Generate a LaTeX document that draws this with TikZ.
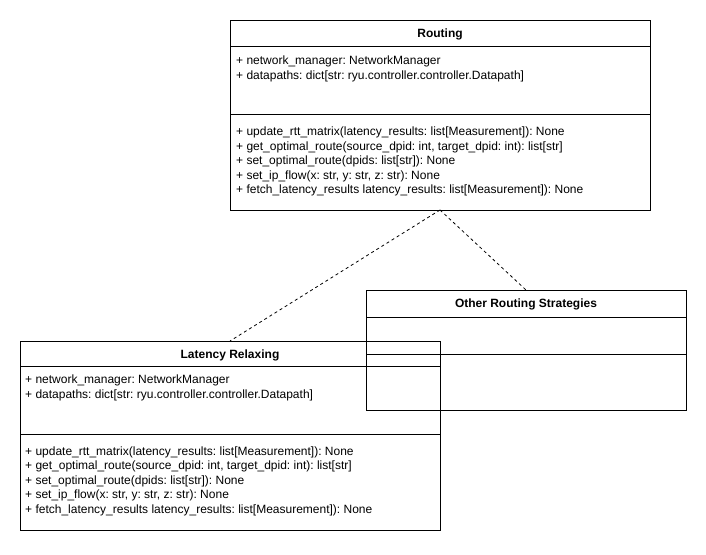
\documentclass[tikz,border=0pt]{standalone}
\usepackage{fontspec}
\setmainfont{Liberation Sans}
\begin{document}
\frenchspacing
\begin{tikzpicture}[x=1pt,y=-1pt,
  boxline/.style={draw=black, line width=1pt},
  classbox/.style={boxline, fill=none, inner sep=0pt, outer sep=0pt, anchor=north west},
  titletext/.style={font=\fontsize{12}{14}\selectfont\bfseries, inner sep=0pt, anchor=base},
  membertext/.style={font=\fontsize{12}{14}\selectfont, inner sep=0pt, anchor=base west},
  realizes/.style={draw=black, line width=0.8pt, dash pattern=on 3pt off 3pt}
]
\useasboundingbox (0,0) rectangle (706,554);
\fill[white] (0,0) rectangle (706,554);

% ---------- Routing ----------
\node[classbox, minimum width=420pt, minimum height=190pt] (routing) at (230,20) {};
\draw[boxline] (230,46.5) coordinate (rh1) -- (650,46.5) coordinate (rh2);
\draw[boxline] (230,114.5) coordinate (ra1) -- (650,114.5) coordinate (ra2);
\node[titletext] (routingtitle) at (440,37.5) {Routing};
\node[membertext] (ra-1) at (236,64.5) {+ network\_manager: NetworkManager};
\node[membertext] (ra-2) at (236,79) {+ datapaths: dict[str: ryu.controller.controller.Datapath]};
\node[membertext] (rm-1) at (236,135.5) {+ update\_rtt\_matrix(latency\_results: list[Measurement]): None};
\node[membertext] (rm-2) at (236,150) {+ get\_optimal\_route(source\_dpid: int, target\_dpid: int): list[str]};
\node[membertext] (rm-3) at (236,164.5) {+ set\_optimal\_route(dpids: list[str]): None};
\node[membertext] (rm-4) at (236,179) {+ set\_ip\_flow(x: str, y: str, z: str): None};
\node[membertext] (rm-5) at (236,193.5) {+ fetch\_latency\_results latency\_results: list[Measurement]): None};

% ---------- Other Routing Strategies ----------
\node[classbox, minimum width=320pt, minimum height=120pt] (other) at (366,290) {};
\draw[boxline] (366,317) coordinate (oh1) -- (686,317) coordinate (oh2);
\draw[boxline] (366,354) coordinate (oa1) -- (686,354) coordinate (oa2);
\node[titletext] (othertitle) at (526,307.5) {Other Routing Strategies};

% ---------- Latency Relaxing ----------
\node[classbox, minimum width=420pt, minimum height=189pt] (latency) at (20,341) {};
\draw[boxline] (20,366) coordinate (lh1) -- (440,366) coordinate (lh2);
\draw[boxline] (20,434) coordinate (la1) -- (440,434) coordinate (la2);
\node[titletext] (latencytitle) at (230,358) {Latency Relaxing};
\node[membertext] (la-1) at (25,383.5) {+ network\_manager: NetworkManager};
\node[membertext] (la-2) at (25,398) {+ datapaths: dict[str: ryu.controller.controller.Datapath]};
\node[membertext] (lm-1) at (25,455) {+ update\_rtt\_matrix(latency\_results: list[Measurement]): None};
\node[membertext] (lm-2) at (25,469.5) {+ get\_optimal\_route(source\_dpid: int, target\_dpid: int): list[str]};
\node[membertext] (lm-3) at (25,484) {+ set\_optimal\_route(dpids: list[str]): None};
\node[membertext] (lm-4) at (25,498.5) {+ set\_ip\_flow(x: str, y: str, z: str): None};
\node[membertext] (lm-5) at (25,513) {+ fetch\_latency\_results latency\_results: list[Measurement]): None};

% ---------- connectors ----------
\draw[realizes] (routing.south) -- (latency.north);
\draw[realizes] (routing.south) -- (other.north);
\end{tikzpicture}
\end{document}
